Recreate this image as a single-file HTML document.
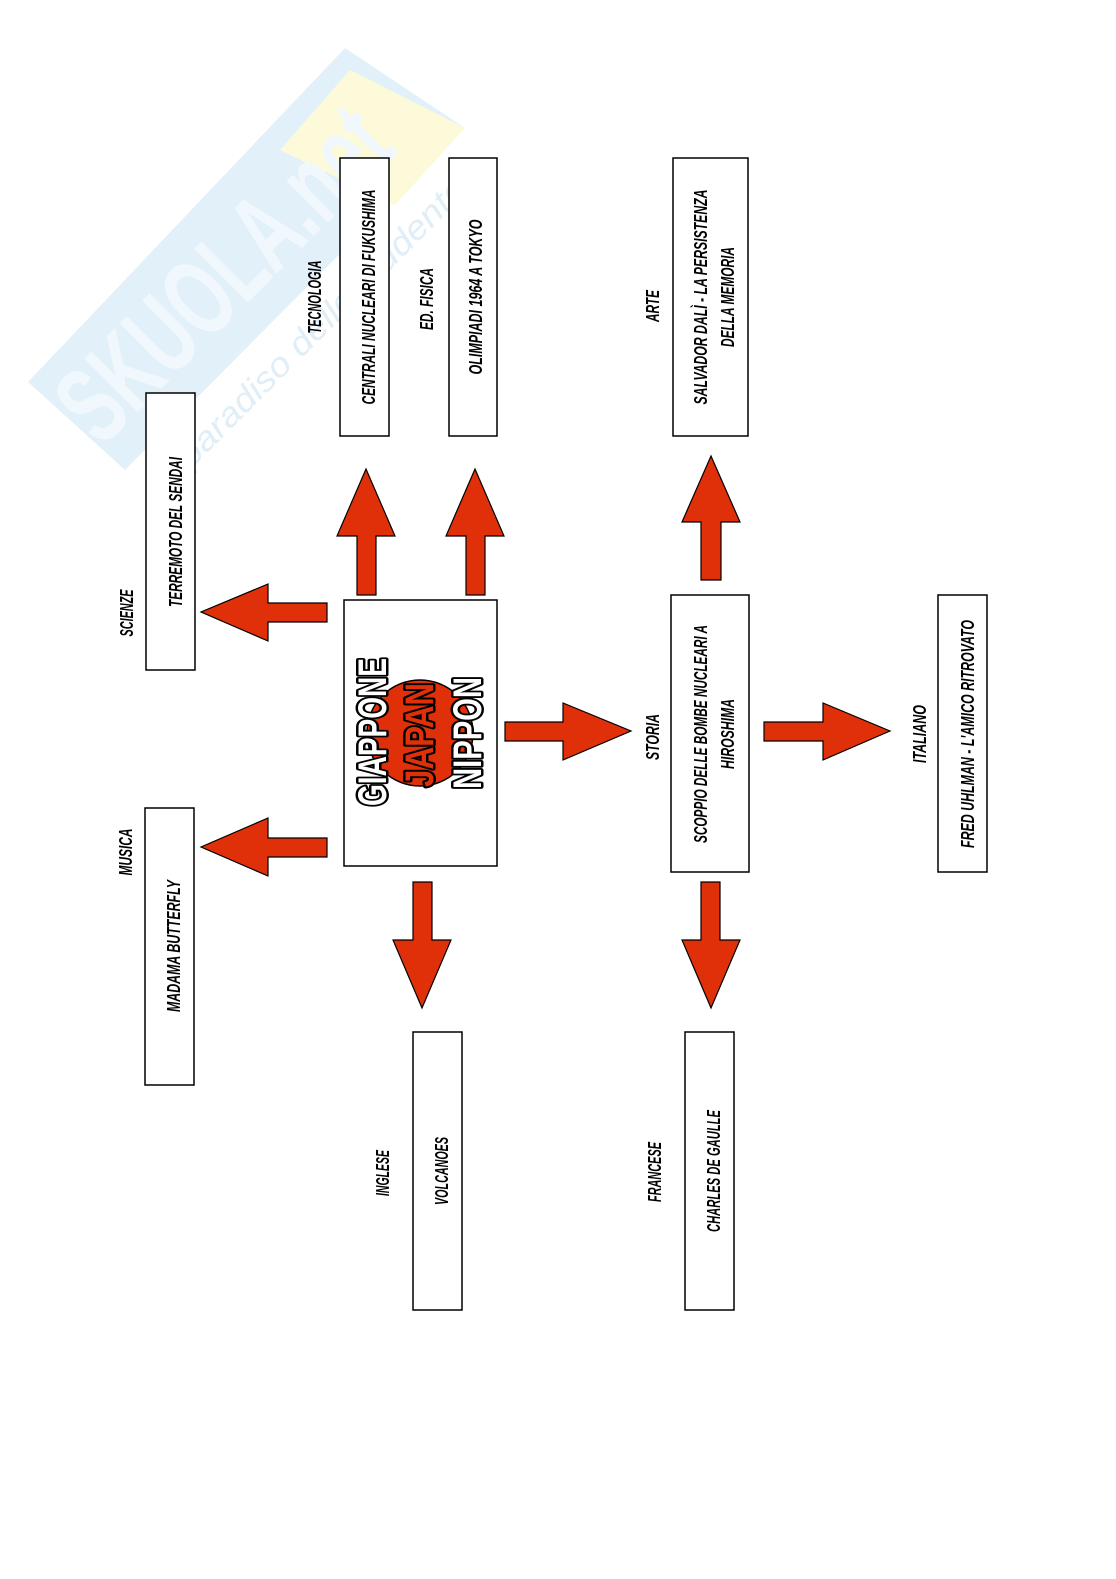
<!DOCTYPE html>
<html><head><meta charset="utf-8"><style>
html,body{margin:0;padding:0;background:#fff;overflow:hidden;width:1116px;height:1579px;}
svg{display:block;}
text{font-family:"Liberation Sans",sans-serif;font-weight:bold;font-style:italic;font-size:18px;fill:#000;}
</style></head><body>
<svg width="1116" height="1579" viewBox="0 0 1116 1579" xmlns="http://www.w3.org/2000/svg">
<!-- watermark -->
<polygon points="28,382 345,48 465,128 125,470" fill="#e2f0f9"/>
<polygon points="280,150 350,70 465,128 395,205" fill="#fcfad8"/>
<text transform="translate(250,300) rotate(-45)" text-anchor="middle" style="font-size:110px;fill:#f1f8fd;font-style:normal" textLength="420" lengthAdjust="spacingAndGlyphs">SKUOLA.net</text>
<text transform="translate(320,340) rotate(-45)" text-anchor="middle" style="font-size:34px;fill:#e0eef8;font-weight:normal" textLength="420" lengthAdjust="spacingAndGlyphs">il paradiso dello studente</text>

<g fill="#fff" stroke="#000" stroke-width="1.5">
<rect x="340" y="158" width="49" height="278"/>
<rect x="449" y="158" width="48" height="278"/>
<rect x="673" y="158" width="75" height="278"/>
<rect x="146" y="393" width="49" height="277"/>
<rect x="344" y="600" width="153" height="266"/>
<rect x="671" y="595" width="78" height="277"/>
<rect x="938" y="595" width="49" height="277"/>
<rect x="145" y="808" width="49" height="277"/>
<rect x="413" y="1032" width="49" height="278"/>
<rect x="685" y="1032" width="49" height="278"/>
</g>

<g fill="#e0300a" stroke="#000" stroke-width="1.2">
<polygon points="357,595 357,536 337,536 366,469 395,536 376,536 376,595"/>
<polygon points="466,595 466,536 446,536 475,469 504,536 485,536 485,595"/>
<polygon points="701,580 701,522 682,522 711,456 740,522 721,522 721,580"/>
<polygon points="327,603 268,603 268,584 201,612 268,641 268,622 327,622"/>
<polygon points="327,838 268,838 268,818 201,847 268,876 268,857 327,857"/>
<polygon points="505,722 563,722 563,703 631,731 563,760 563,741 505,741"/>
<polygon points="764,722 823,722 823,703 890,731 823,760 823,741 764,741"/>
<polygon points="413,882 413,940 393,940 422,1008 451,940 432,940 432,882"/>
<polygon points="701,882 701,940 682,940 711,1008 740,940 720,940 720,882"/>
</g>

<!-- logo -->
<circle cx="420" cy="733" r="53" fill="#e0300a" stroke="#000" stroke-width="1.5"/>
<g stroke="#000" stroke-width="5" paint-order="stroke" stroke-linejoin="round">
<text transform="translate(386,732) rotate(-90)" text-anchor="middle" style="fill:#fff;font-size:40px;font-style:normal;font-weight:900" textLength="148" lengthAdjust="spacingAndGlyphs">GIAPPONE</text>
<text transform="translate(433,735) rotate(-90)" text-anchor="middle" style="fill:#e0300a;font-size:40px;font-style:normal;font-weight:900" textLength="104" lengthAdjust="spacingAndGlyphs">JAPAN</text>
<text transform="translate(481,733) rotate(-90)" text-anchor="middle" style="fill:#fff;font-size:40px;font-style:normal;font-weight:900" textLength="112" lengthAdjust="spacingAndGlyphs">NIPPON</text>
</g>

<!-- labels -->
<g text-anchor="middle">
<text transform="translate(321,297) rotate(-90)" textLength="73" lengthAdjust="spacingAndGlyphs">TECNOLOGIA</text>
<text transform="translate(433,299) rotate(-90)" textLength="62" lengthAdjust="spacingAndGlyphs">ED. FISICA</text>
<text transform="translate(659,306) rotate(-90)" textLength="32" lengthAdjust="spacingAndGlyphs">ARTE</text>
<text transform="translate(133,613) rotate(-90)" textLength="47" lengthAdjust="spacingAndGlyphs">SCIENZE</text>
<text transform="translate(132,852) rotate(-90)" textLength="47" lengthAdjust="spacingAndGlyphs">MUSICA</text>
<text transform="translate(659,737) rotate(-90)" textLength="46" lengthAdjust="spacingAndGlyphs">STORIA</text>
<text transform="translate(926,734) rotate(-90)" textLength="58" lengthAdjust="spacingAndGlyphs">ITALIANO</text>
<text transform="translate(389,1173) rotate(-90)" textLength="46" lengthAdjust="spacingAndGlyphs">INGLESE</text>
<text transform="translate(661,1172) rotate(-90)" textLength="60" lengthAdjust="spacingAndGlyphs">FRANCESE</text>

<text transform="translate(375,297) rotate(-90)" textLength="215" lengthAdjust="spacingAndGlyphs">CENTRALI NUCLEARI DI FUKUSHIMA</text>
<text transform="translate(482,297) rotate(-90)" textLength="155" lengthAdjust="spacingAndGlyphs">OLIMPIADI 1964 A TOKYO</text>
<text transform="translate(707,297) rotate(-90)" textLength="215" lengthAdjust="spacingAndGlyphs">SALVADOR DALÌ - LA PERSISTENZA</text>
<text transform="translate(734,297) rotate(-90)" textLength="100" lengthAdjust="spacingAndGlyphs">DELLA MEMORIA</text>
<text transform="translate(182,532) rotate(-90)" textLength="150" lengthAdjust="spacingAndGlyphs">TERREMOTO DEL SENDAI</text>
<text transform="translate(707,734) rotate(-90)" textLength="218" lengthAdjust="spacingAndGlyphs">SCOPPIO DELLE BOMBE NUCLEARI A</text>
<text transform="translate(734,734) rotate(-90)" textLength="70" lengthAdjust="spacingAndGlyphs">HIROSHIMA</text>
<text transform="translate(974,734) rotate(-90)" textLength="228" lengthAdjust="spacingAndGlyphs">FRED UHLMAN - L'AMICO RITROVATO</text>
<text transform="translate(180,946) rotate(-90)" textLength="132" lengthAdjust="spacingAndGlyphs">MADAMA BUTTERFLY</text>
<text transform="translate(448,1171) rotate(-90)" textLength="68" lengthAdjust="spacingAndGlyphs">VOLCANOES</text>
<text transform="translate(720,1171) rotate(-90)" textLength="122" lengthAdjust="spacingAndGlyphs">CHARLES DE GAULLE</text>
</g>
</svg>
</body></html>
